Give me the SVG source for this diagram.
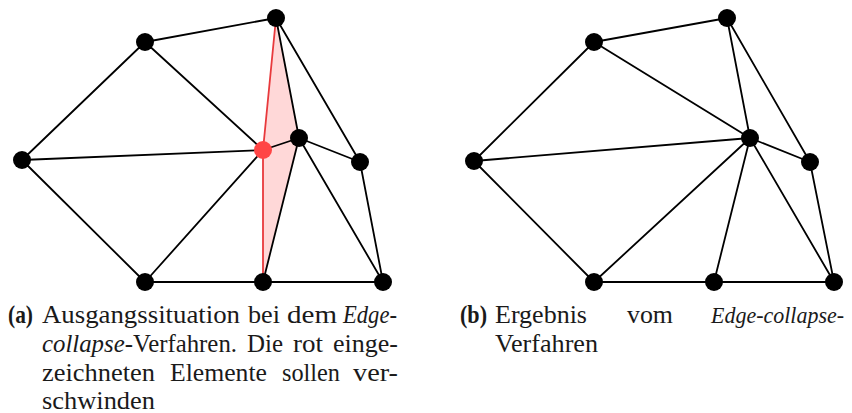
<svg xmlns="http://www.w3.org/2000/svg" width="852" height="413" viewBox="0 0 852 413">
<style>
.e{stroke:#000;stroke-width:1.8;fill:none;stroke-linecap:round}
.r{stroke:#e8393c;stroke-width:1.8;fill:none;stroke-linecap:round}
.n{fill:#000}
.nr{fill:#ff4545}
.t{font-family:"Liberation Serif","Times New Roman",serif;font-size:25px;fill:#1a1a1a}
.b{font-weight:bold}
.i{font-style:italic}
</style>
<rect width="852" height="413" fill="#fff"/>
<g id="shade-a">
<polygon points="276,18 299,138 263,282 263,150" fill="#ffd8d8"/>
</g>
<g id="connectors-a">
<line class="e" x1="145" y1="42" x2="276" y2="18"/>
<line class="e" x1="145" y1="42" x2="22" y2="160"/>
<line class="e" x1="145" y1="42" x2="263" y2="150"/>
<line class="e" x1="22" y1="160" x2="263" y2="150"/>
<line class="e" x1="22" y1="160" x2="145" y2="282"/>
<line class="e" x1="145" y1="282" x2="263" y2="150"/>
<line class="e" x1="145" y1="282" x2="263" y2="282"/>
<line class="e" x1="263" y1="282" x2="383" y2="282"/>
<line class="e" x1="276" y1="18" x2="299" y2="138"/>
<line class="e" x1="276" y1="18" x2="360" y2="162"/>
<line class="e" x1="263" y1="150" x2="299" y2="138"/>
<line class="e" x1="299" y1="138" x2="360" y2="162"/>
<line class="e" x1="299" y1="138" x2="263" y2="282"/>
<line class="e" x1="299" y1="138" x2="383" y2="282"/>
<line class="e" x1="360" y1="162" x2="383" y2="282"/>
<line class="r" x1="276" y1="18" x2="263" y2="150"/>
<line class="r" x1="263" y1="150" x2="263" y2="282"/>
</g>
<g id="nodes-a">
<g id="a-A"><circle class="n" cx="145" cy="42" r="9"/></g>
<g id="a-T"><circle class="n" cx="276" cy="18" r="9"/></g>
<g id="a-L"><circle class="n" cx="22" cy="160" r="9"/></g>
<g id="a-P"><circle class="n" cx="299" cy="138" r="9"/></g>
<g id="a-Q"><circle class="n" cx="360" cy="162" r="9"/></g>
<g id="a-B1"><circle class="n" cx="145" cy="282" r="9"/></g>
<g id="a-B2"><circle class="n" cx="263" cy="282" r="9"/></g>
<g id="a-B3"><circle class="n" cx="383" cy="282" r="9"/></g>
<g id="a-R"><circle class="nr" cx="263" cy="150" r="9"/></g>
</g>
<g id="connectors-b">
<line class="e" x1="594" y1="42" x2="727" y2="18"/>
<line class="e" x1="594" y1="42" x2="474" y2="161"/>
<line class="e" x1="594" y1="42" x2="750" y2="138"/>
<line class="e" x1="474" y1="161" x2="750" y2="138"/>
<line class="e" x1="474" y1="161" x2="594" y2="282"/>
<line class="e" x1="594" y1="282" x2="750" y2="138"/>
<line class="e" x1="594" y1="282" x2="714" y2="282"/>
<line class="e" x1="714" y1="282" x2="834" y2="282"/>
<line class="e" x1="727" y1="18" x2="750" y2="138"/>
<line class="e" x1="727" y1="18" x2="810" y2="162"/>
<line class="e" x1="750" y1="138" x2="810" y2="162"/>
<line class="e" x1="750" y1="138" x2="714" y2="282"/>
<line class="e" x1="750" y1="138" x2="834" y2="282"/>
<line class="e" x1="810" y1="162" x2="834" y2="282"/>
</g>
<g id="nodes-b">
<g id="b-A"><circle class="n" cx="594" cy="42" r="9"/></g>
<g id="b-T"><circle class="n" cx="727" cy="18" r="9"/></g>
<g id="b-L"><circle class="n" cx="474" cy="161" r="9"/></g>
<g id="b-C"><circle class="n" cx="750" cy="138" r="9"/></g>
<g id="b-Q"><circle class="n" cx="810" cy="162" r="9"/></g>
<g id="b-B1"><circle class="n" cx="594" cy="282" r="9"/></g>
<g id="b-B2"><circle class="n" cx="714" cy="282" r="9"/></g>
<g id="b-B3"><circle class="n" cx="834" cy="282" r="9"/></g>
</g>
<g id="caption-a" class="t">
<text x="8" y="323" class="b" textLength="25" lengthAdjust="spacingAndGlyphs">(a)</text>
<text x="42" y="323" textLength="198" lengthAdjust="spacingAndGlyphs">Ausgangssituation</text>
<text x="248" y="323" textLength="32" lengthAdjust="spacingAndGlyphs">bei</text>
<text x="287" y="323" textLength="50" lengthAdjust="spacingAndGlyphs">dem</text>
<text x="343" y="323" class="i" textLength="54" lengthAdjust="spacingAndGlyphs">Edge-</text>
<text x="42" y="352" textLength="195" lengthAdjust="spacingAndGlyphs"><tspan class="i">collapse</tspan>-Verfahren.</text>
<text x="247" y="352" textLength="36" lengthAdjust="spacingAndGlyphs">Die</text>
<text x="293" y="352" textLength="30" lengthAdjust="spacingAndGlyphs">rot</text>
<text x="333" y="352" textLength="65" lengthAdjust="spacingAndGlyphs">einge-</text>
<text x="42" y="381" textLength="113" lengthAdjust="spacingAndGlyphs">zeichneten</text>
<text x="170" y="381" textLength="97" lengthAdjust="spacingAndGlyphs">Elemente</text>
<text x="282" y="381" textLength="58" lengthAdjust="spacingAndGlyphs">sollen</text>
<text x="353" y="381" textLength="45" lengthAdjust="spacingAndGlyphs">ver-</text>
<text x="42" y="409" textLength="113" lengthAdjust="spacingAndGlyphs">schwinden</text>
</g>
<g id="caption-b" class="t">
<text x="460" y="323" class="b" textLength="27" lengthAdjust="spacingAndGlyphs">(b)</text>
<text x="495" y="323" textLength="92" lengthAdjust="spacingAndGlyphs">Ergebnis</text>
<text x="627" y="323" textLength="46" lengthAdjust="spacingAndGlyphs">vom</text>
<text x="711" y="323" class="i" font-size="22.5" textLength="133" lengthAdjust="spacingAndGlyphs">Edge-collapse-</text>
<text x="495" y="352" textLength="103" lengthAdjust="spacingAndGlyphs">Verfahren</text>
</g>
</svg>
